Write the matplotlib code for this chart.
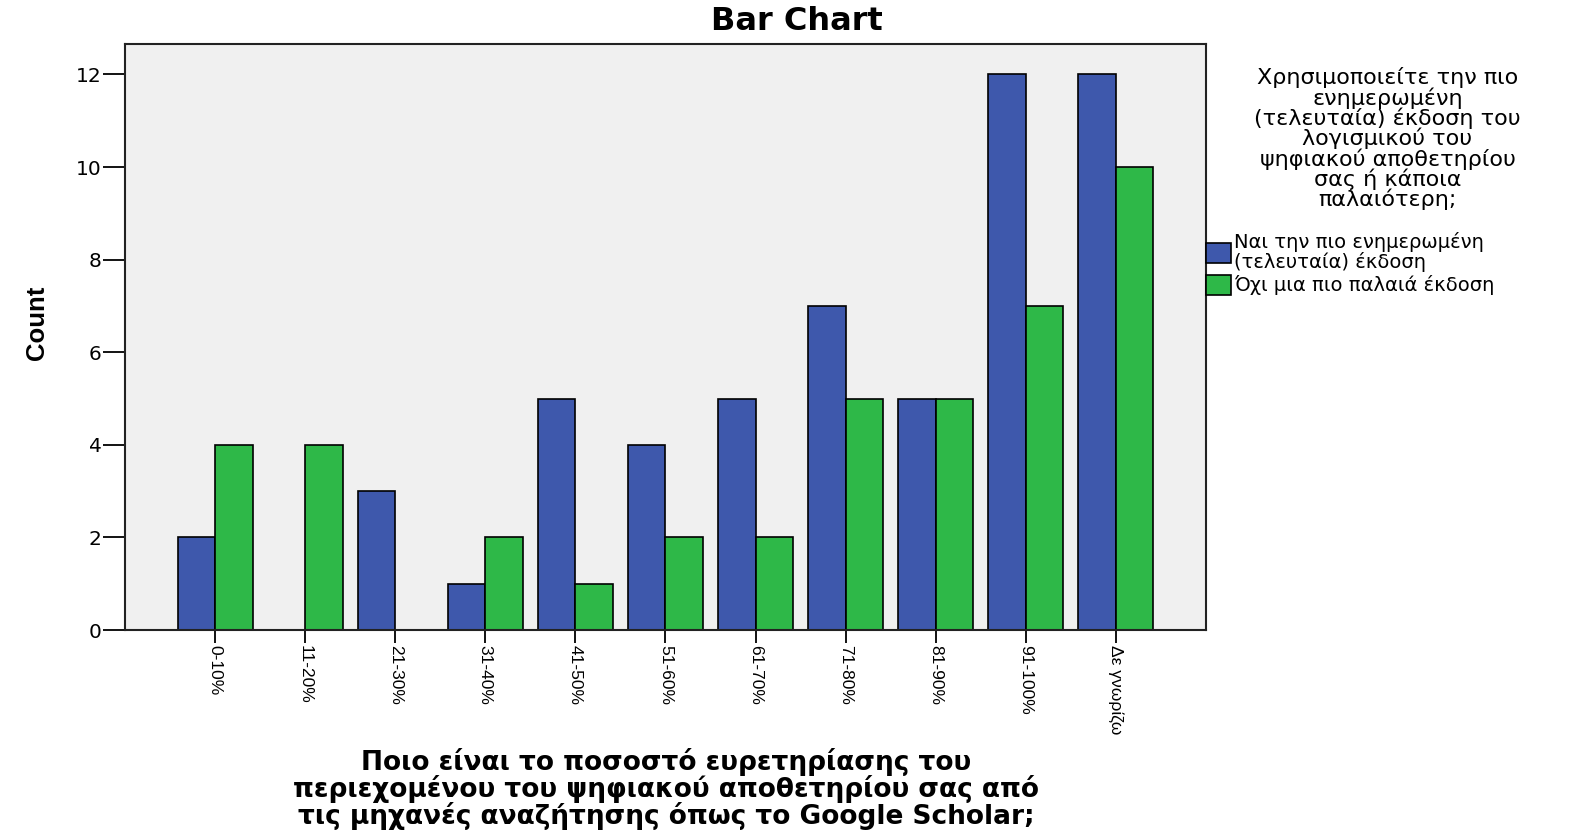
import matplotlib
matplotlib.use("Agg")
import matplotlib.pyplot as plt
from matplotlib import font_manager
from matplotlib.patches import Patch
import numpy as np

# Data
categories = ["0-10%", "11-20%", "21-30%", "31-40%", "41-50%", "51-60%",
              "61-70%", "71-80%", "81-90%", "91-100%", "Δε γνωρίζω"]
latest_counts = [2, 0, 3, 1, 5, 4, 5, 7, 5, 12, 12]
older_counts = [4, 4, 0, 2, 1, 2, 2, 5, 5, 7, 10]
series_labels = ["Ναι την πιο ενημερωμένη\n(τελευταία) έκδοση",
                 "Όχι μια πιο παλαιά έκδοση"]
y_ticks = [0, 2, 4, 6, 8, 10, 12]

legend_title = ("Χρησιμοποιείτε την πιο\nενημερωμένη\n(τελευταία) έκδοση του\n"
                "λογισμικού του\nψηφιακού αποθετηρίου\nσας ή κάποια\nπαλαιότερη;")
x_title = ("Ποιο είναι το ποσοστό ευρετηρίασης του\n"
           "περιεχομένου του ψηφιακού αποθετηρίου σας από\n"
           "τις μηχανές αναζήτησης όπως το Google Scholar;")

BLUE = "#3E58AC"
GREEN = "#2EB848"
PANEL = "#F0F0F0"

plt.rcParams["font.family"] = "DejaVu Sans"
installed = {f.name for f in font_manager.fontManager.ttflist}
narrow = "Liberation Sans Narrow" if "Liberation Sans Narrow" in installed else "Liberation Sans"

fig = plt.figure(figsize=(15.93, 8.36), dpi=100)
ax = fig.add_axes([0.0785, 0.2464, 0.6785, 0.7006])
ax.set_facecolor(PANEL)

x = np.arange(len(categories))
w = 0.415
ax.bar(x - w / 2, latest_counts, w, color=BLUE, edgecolor="black", linewidth=1.2)
ax.bar(x + w / 2, older_counts, w, color=GREEN, edgecolor="black", linewidth=1.2)

ax.set_xlim(-1.0, len(categories))
ax.set_ylim(0, 12.65)
ax.set_yticks(y_ticks)
ax.set_yticklabels([str(v) for v in y_ticks], fontsize=14.5)
ax.set_xticks(x)
ax.set_xticklabels(categories, rotation=270, ha="center", va="top",
                   fontsize=12.5, family=narrow)
ax.tick_params(axis="y", length=16, width=1.3, pad=1)
ax.tick_params(axis="x", length=9.5, width=1.3, pad=1)
for s in ax.spines.values():
    s.set_linewidth(1.5)
    s.set_color("#222222")

fig.text(0.5, 0.974, "Bar Chart", ha="center", va="center",
         fontsize=23, fontweight="bold")
fig.text(0.023, 0.614, "Count", rotation=90, ha="center", va="center",
         fontsize=18.5, fontweight="bold", family=narrow)
fig.text(0.418, 0.056, x_title, ha="center", va="center",
         multialignment="center", fontsize=19, fontweight="bold", linespacing=0.95)
fig.text(0.871, 0.834, legend_title, ha="center", va="center",
         multialignment="center", fontsize=16, linespacing=0.93)

handles = [Patch(facecolor=BLUE, edgecolor="black", linewidth=1.2),
           Patch(facecolor=GREEN, edgecolor="black", linewidth=1.2)]
leg = ax.legend(handles, series_labels, loc="upper left",
                bbox_to_anchor=(0.757, 1 - 232 / 836), bbox_transform=fig.transFigure,
                frameon=False, borderaxespad=0, borderpad=0, fontsize=14,
                handlelength=1.3, handleheight=1.2, handletextpad=0.15,
                labelspacing=0.15)
for t in leg.get_texts():
    t.set_linespacing(1.0)

fig.savefig("out.png", dpi=100)
